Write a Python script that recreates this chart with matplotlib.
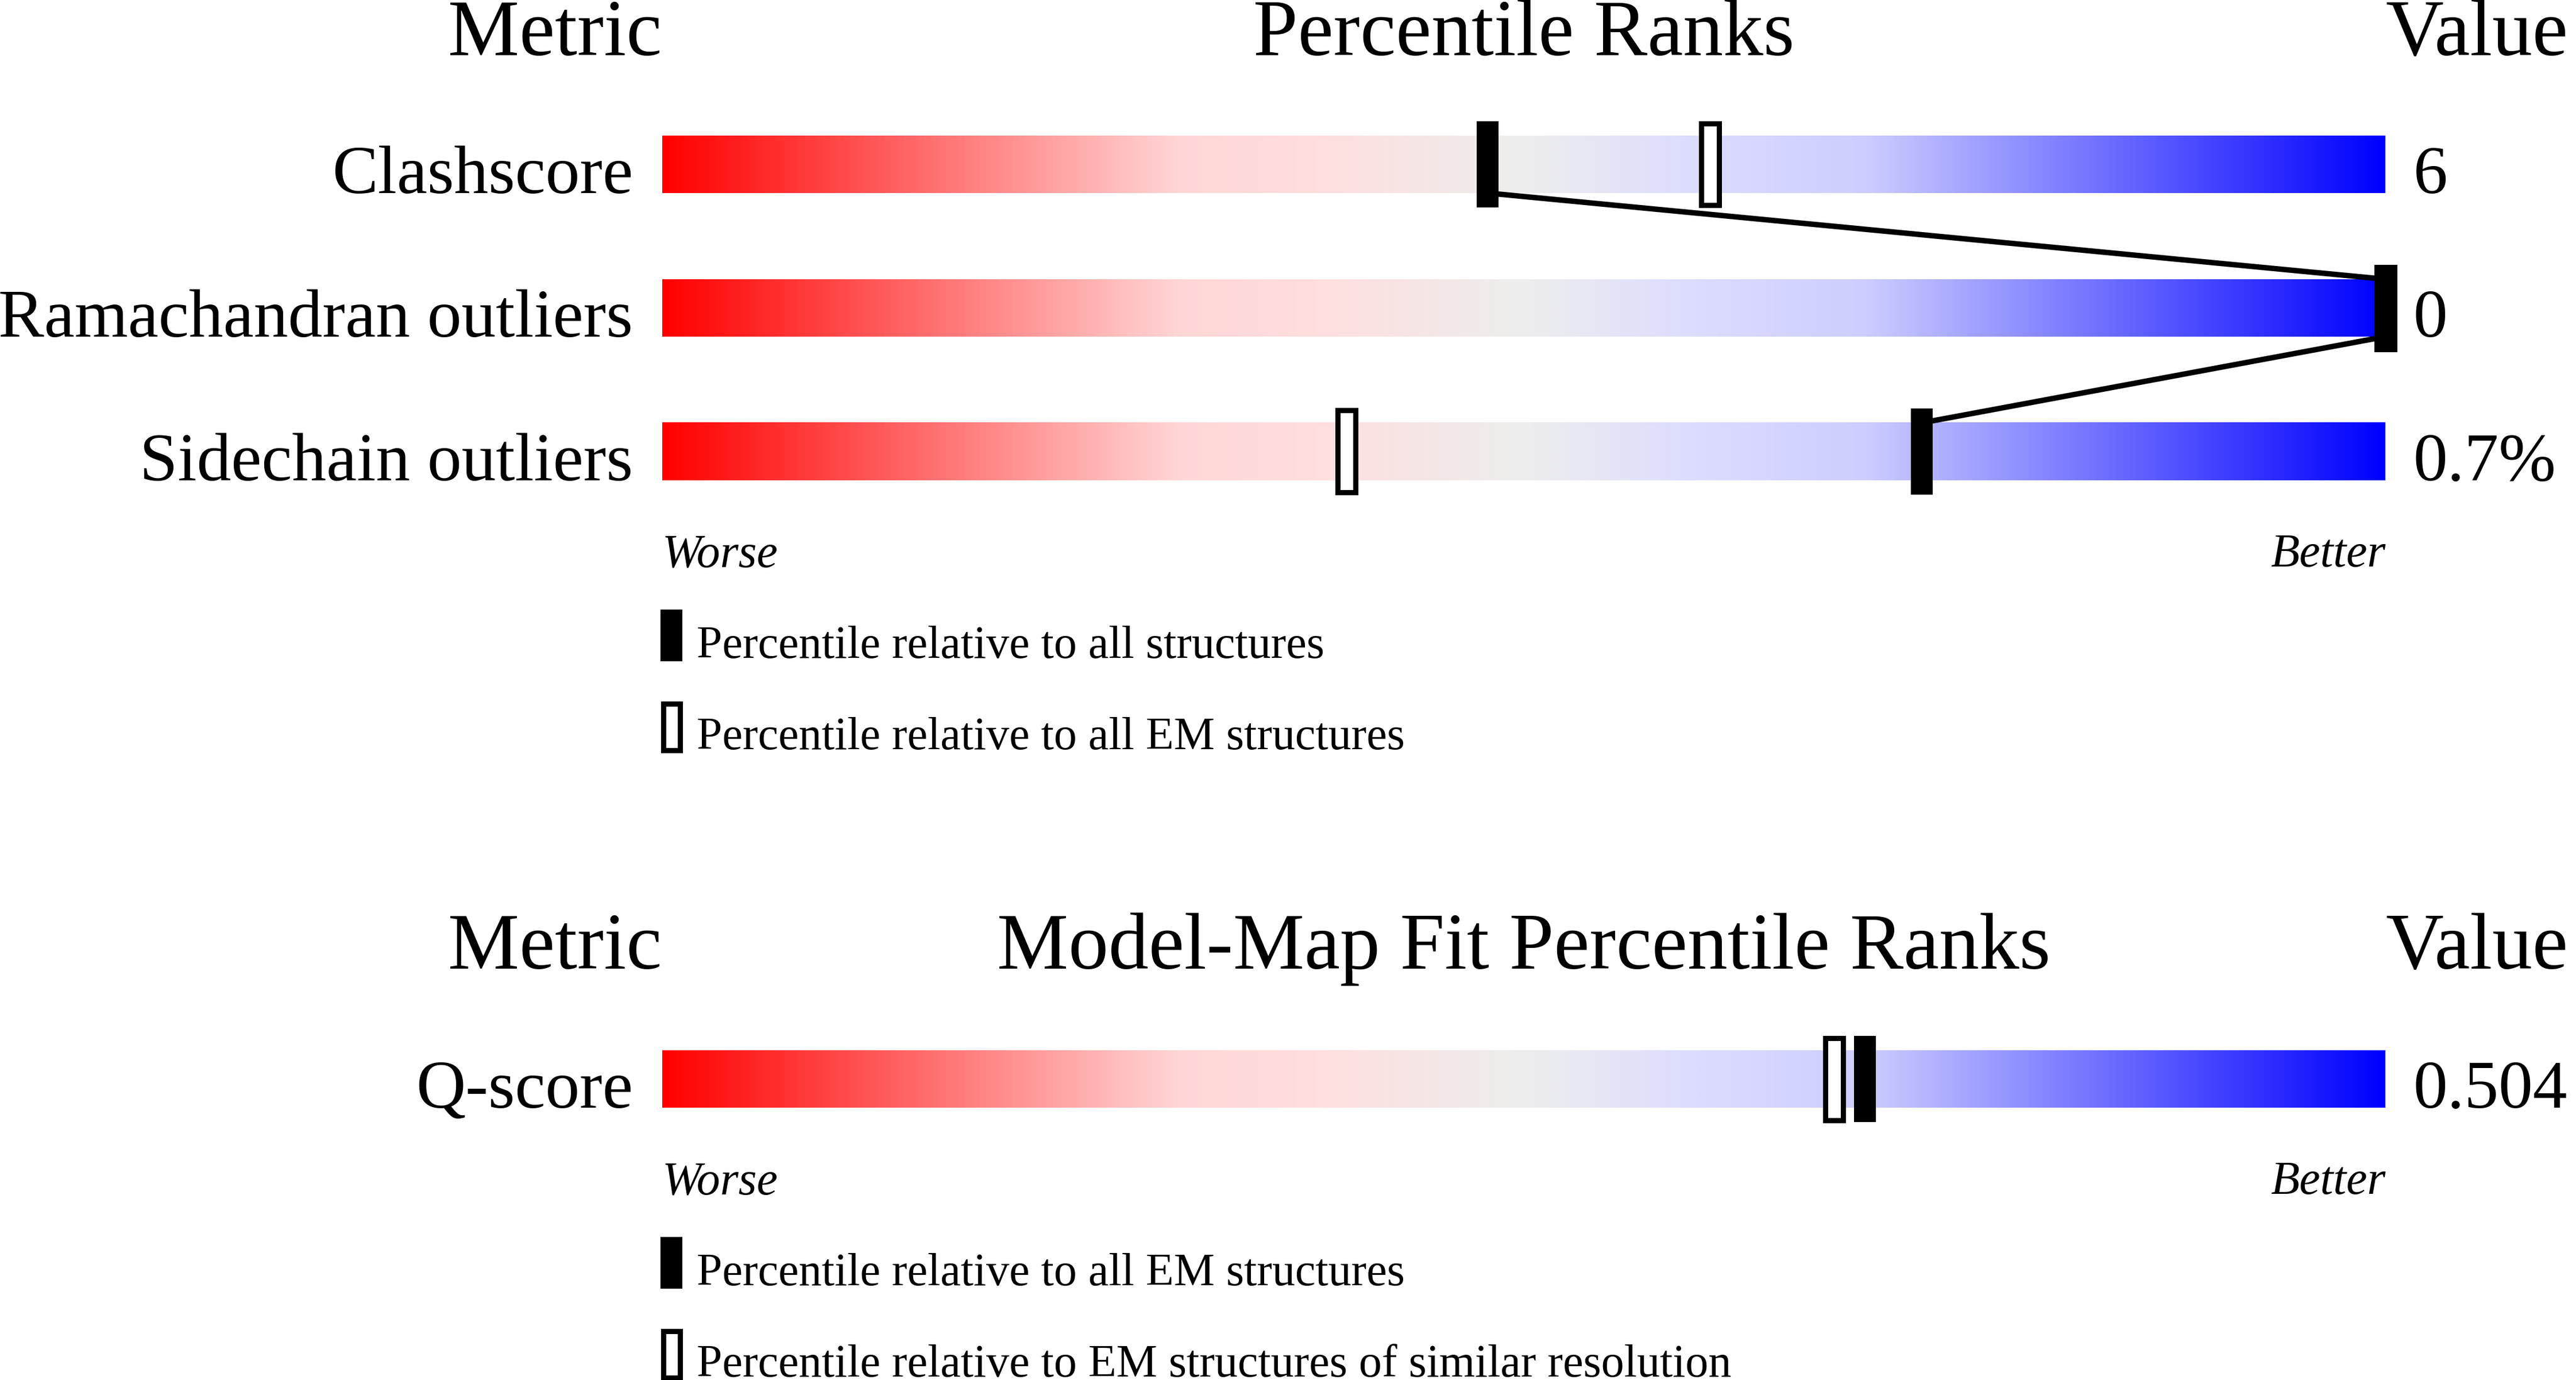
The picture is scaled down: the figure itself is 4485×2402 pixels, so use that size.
import numpy as np
import matplotlib
matplotlib.use("Agg")
import matplotlib.pyplot as plt
from matplotlib.colors import LinearSegmentedColormap
from matplotlib.patches import Rectangle

# ---------------- data ----------------
metrics = ["Clashscore", "Ramachandran outliers", "Sidechain outliers"]
metric_values = ["6", "0", "0.7%"]
pct_all_structures = [47.9, 100.0, 73.1]
pct_all_em = [60.8, 100.0, 39.7]

fit_metrics = ["Q-score"]
fit_values = ["0.504"]
fit_pct_all_em = [69.8]
fit_pct_similar_res = [68.0]

legend_top = ["Percentile relative to all structures",
              "Percentile relative to all EM structures"]
legend_bottom = ["Percentile relative to all EM structures",
                 "Percentile relative to EM structures of similar resolution"]

# ---------------- setup ----------------
W, H = 4485, 2402
plt.rcParams["font.family"] = ["Liberation Serif", "DejaVu Serif"]
fig = plt.figure(figsize=(W / 100, H / 100), dpi=100)
fig.patch.set_facecolor("white")

cmap = LinearSegmentedColormap.from_list(
    "slider",
    [(0.0, "#ff0000"), (0.3, "#ffd7d7"), (0.38, "#ffdede"), (0.5, "#eeeeee"),
     (0.6, "#dcdcff"), (0.7, "#cdcdff"), (1.0, "#0000ff")])

BAR_L, BAR_R = 1153, 4153
ROW_H = 250
PX_PER_UNIT = (BAR_R - BAR_L) / 100.0

HDR = 100.5
LBL = 86
SMALL = 57.6


def ftext(x, y, s, **kw):
    fig.text(x / W, 1 - y / H, s, va="baseline", **kw)


def make_axes(top_px, nrows):
    ax = fig.add_axes([BAR_L / W, 1 - (top_px + nrows * ROW_H) / H,
                       (BAR_R - BAR_L) / W, nrows * ROW_H / H])
    return ax


def draw_panel(ax, labels, values, pct_filled, pct_open):
    n = len(labels)
    grad = np.linspace(0, 1, 1024).reshape(1, -1)
    for i in range(n):
        ax.imshow(grad, cmap=cmap, extent=[0, 100, i + 0.2, i - 0.2],
                  aspect="auto", interpolation="bilinear", zorder=1)
    # connecting lines between filled markers
    for i in range(n - 1):
        ax.plot([pct_filled[i], pct_filled[i + 1]], [i + 0.2, i + 0.8],
                color="black", lw=6.8, solid_capstyle="butt", zorder=2,
                clip_on=False)
    w_open = 31 / PX_PER_UNIT
    w_fill = 38 / PX_PER_UNIT
    for i in range(n):
        ax.add_patch(Rectangle((pct_open[i] - w_open / 2, i - 0.286), w_open, 0.572,
                               facecolor="white", edgecolor="black", lw=6.5,
                               zorder=3, clip_on=False))
        ax.add_patch(Rectangle((pct_filled[i] - w_fill / 2, i - 0.3), w_fill, 0.6,
                               facecolor="black", edgecolor="none", lw=0,
                               zorder=4, clip_on=False))
    ax.set_xlim(0, 100)
    ax.set_ylim(n - 0.5, -0.5)
    ax.axis("off")


def legend_marker(x, baseline, filled):
    if filled:
        r = Rectangle((x / W, 1 - (baseline + 6) / H), 38 / W, 90 / H,
                      transform=fig.transFigure, facecolor="black",
                      edgecolor="none", lw=0)
    else:
        r = Rectangle(((x + 4.5) / W, 1 - (baseline + 1.5) / H), 29 / W, 81 / H,
                      transform=fig.transFigure, facecolor="white",
                      edgecolor="black", lw=6.5)
    fig.add_artist(r)


def section(top_center, header_baseline, title, labels, values,
            pct_filled, pct_open, legend_labels):
    ax = make_axes(top_center - ROW_H / 2, len(labels))
    draw_panel(ax, labels, values, pct_filled, pct_open)
    ftext(BAR_L - 1, header_baseline, "Metric", ha="right", fontsize=HDR)
    ftext((BAR_L + BAR_R) / 2, header_baseline, title, ha="center", fontsize=HDR)
    ftext(BAR_R, header_baseline, "Value", ha="left", fontsize=HDR)
    for i, (lab, val) in enumerate(zip(labels, values)):
        base = top_center + i * ROW_H + 50
        ftext(BAR_L - 51, base, lab, ha="right", fontsize=LBL)
        ftext(4202, base, val, ha="left", fontsize=LBL)
    last_bottom = top_center + (len(labels) - 1) * ROW_H + 50
    ftext(BAR_L, last_bottom + 150, "Worse", ha="left", fontsize=59, style="italic")
    ftext(BAR_R, last_bottom + 150, "Better", ha="right", fontsize=59, style="italic")
    for k, txt in enumerate(legend_labels):
        b = last_bottom + 309 + k * 159
        legend_marker(1150, b, filled=(k == 0))
        ftext(1213, b, txt, ha="left", fontsize=SMALL)


section(286, 96, "Percentile Ranks", metrics, metric_values,
        pct_all_structures, pct_all_em, legend_top)
section(1878, 1686, "Model-Map Fit Percentile Ranks", fit_metrics, fit_values,
        fit_pct_all_em, fit_pct_similar_res, legend_bottom)

fig.savefig("out.png", dpi=100, facecolor="white")
